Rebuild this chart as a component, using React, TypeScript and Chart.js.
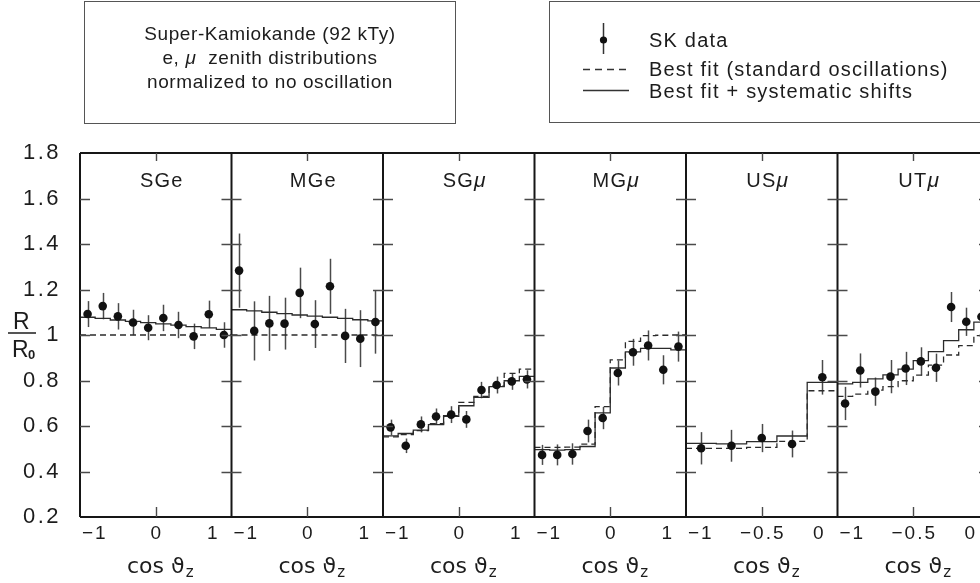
import React, { useEffect, useRef } from "react";
import { Chart, registerables } from "chart.js";
Chart.register(...registerables);

const FONT = '"Liberation Sans", Arial, sans-serif';
const INK = "#1c1c1c";

// bin edges in cos(theta_z)
const edgesFull = [-1, -0.8, -0.6, -0.4, -0.2, 0, 0.2, 0.4, 0.6, 0.8, 1];
const edgesUp5 = [-1, -0.8, -0.6, -0.4, -0.2, 0];
const edgesUp10 = [-1, -0.9, -0.8, -0.7, -0.6, -0.5, -0.4, -0.3, -0.2, -0.1, 0];

const tickFull = [-1, 0, 1];
const tickFullLabels = ["\u22121", "0", "1"];
const tickUp = [-1, -0.5, 0];
const tickUpLabels = ["\u22121", "\u22120.5", "0"];
const yTickValues = [0.4, 0.6, 0.8, 1.0, 1.2, 1.4, 1.6];

// SGe
const sgeObs = [1.092, 1.127, 1.082, 1.055, 1.032, 1.075, 1.044, 0.994, 1.091, 1.0];
const sgeErr = [0.057, 0.058, 0.058, 0.056, 0.055, 0.058, 0.058, 0.056, 0.06, 0.056];
const sgeStd = [1.0, 1.0, 1.0, 1.0, 1.0, 1.0, 1.0, 1.0, 1.0, 1.0];
const sgeSys = [1.078, 1.073, 1.066, 1.06, 1.054, 1.049, 1.043, 1.037, 1.031, 1.025];
// MGe
const mgeObs = [1.283, 1.018, 1.051, 1.05, 1.185, 1.048, 1.214, 0.996, 0.984, 1.057];
const mgeErr = [0.163, 0.13, 0.121, 0.114, 0.111, 0.105, 0.121, 0.119, 0.125, 0.139];
const mgeStd = [1.0, 1.0, 1.0, 1.0, 1.0, 1.0, 1.0, 1.0, 1.0, 1.0];
const mgeSys = [1.111, 1.106, 1.1, 1.094, 1.088, 1.083, 1.078, 1.073, 1.067, 1.062];
// SGmu
const sgmObs = [0.594, 0.513, 0.607, 0.642, 0.65, 0.629, 0.758, 0.78, 0.796, 0.805];
const sgmErr = [0.034, 0.032, 0.035, 0.035, 0.037, 0.037, 0.036, 0.037, 0.037, 0.04];
const sgmStd = [0.552, 0.562, 0.58, 0.61, 0.645, 0.704, 0.73, 0.775, 0.831, 0.85];
const sgmSys = [0.557, 0.567, 0.582, 0.606, 0.642, 0.689, 0.726, 0.773, 0.799, 0.818];
// MGmu
const mgmObs = [0.473, 0.473, 0.477, 0.578, 0.635, 0.833, 0.924, 0.954, 0.847, 0.949];
const mgmErr = [0.044, 0.046, 0.047, 0.05, 0.049, 0.055, 0.059, 0.066, 0.064, 0.066];
const mgmStd = [0.506, 0.506, 0.507, 0.52, 0.685, 0.891, 0.972, 0.997, 0.999, 1.0];
const mgmSys = [0.496, 0.494, 0.496, 0.51, 0.658, 0.855, 0.926, 0.941, 0.941, 0.935];
// USmu
const usmObs = [0.502, 0.513, 0.547, 0.521, 0.814];
const usmErr = [0.071, 0.07, 0.062, 0.059, 0.076];
const usmStd = [0.502, 0.502, 0.506, 0.532, 0.755];
const usmSys = [0.524, 0.521, 0.531, 0.556, 0.792];
// UTmu
const utmObs = [0.699, 0.844, 0.751, 0.817, 0.853, 0.884, 0.856, 1.123, 1.058, 1.08];
const utmErr = [0.073, 0.075, 0.062, 0.073, 0.073, 0.062, 0.062, 0.066, 0.062, 0.06];
const utmStd = [0.73, 0.74, 0.758, 0.773, 0.799, 0.824, 0.868, 0.912, 0.953, 0.997];
const utmSys = [0.785, 0.792, 0.807, 0.825, 0.85, 0.887, 0.927, 0.975, 1.023, 1.057];

const panels = [
  { name: "SGe", mu: false, edges: edgesFull, obs: sgeObs, err: sgeErr, std: sgeStd, sys: sgeSys, ticks: tickFull, labels: tickFullLabels },
  { name: "MGe", mu: false, edges: edgesFull, obs: mgeObs, err: mgeErr, std: mgeStd, sys: mgeSys, ticks: tickFull, labels: tickFullLabels },
  { name: "SG", mu: true, edges: edgesFull, obs: sgmObs, err: sgmErr, std: sgmStd, sys: sgmSys, ticks: tickFull, labels: tickFullLabels },
  { name: "MG", mu: true, edges: edgesFull, obs: mgmObs, err: mgmErr, std: mgmStd, sys: mgmSys, ticks: tickFull, labels: tickFullLabels },
  { name: "US", mu: true, edges: edgesUp5, obs: usmObs, err: usmErr, std: usmStd, sys: usmSys, ticks: tickUp, labels: tickUpLabels },
  { name: "UT", mu: true, edges: edgesUp10, obs: utmObs, err: utmErr, std: utmStd, sys: utmSys, ticks: tickUp, labels: tickUpLabels },
];

const stepData = (edges: number[], vals: number[]) =>
  edges.map((e, j) => ({ x: e, y: vals[Math.min(j, vals.length - 1)] }));
const pointData = (edges: number[], vals: number[]) =>
  vals.map((v, j) => ({ x: (edges[j] + edges[j + 1]) / 2, y: v }));

const errorBarsPlugin = {
  id: "errorBars",
  beforeDatasetsDraw(chart: any) {
    const ctx = chart.ctx;
    const ys = chart.scales.y;
    ctx.save();
    ctx.strokeStyle = "#4a4a4a";
    ctx.lineWidth = 1.5;
    chart.data.datasets.forEach((ds: any, i: number) => {
      if (!ds.errors) return;
      const meta = chart.getDatasetMeta(i);
      const xs = chart.scales[meta.xAxisID];
      ds.data.forEach((pt: any, j: number) => {
        const px = Math.round(xs.getPixelForValue(pt.x)) + 0.5;
        ctx.beginPath();
        ctx.moveTo(px, ys.getPixelForValue(pt.y + ds.errors[j]));
        ctx.lineTo(px, ys.getPixelForValue(pt.y - ds.errors[j]));
        ctx.stroke();
      });
    });
    ctx.restore();
  },
};

const decorPlugin = {
  id: "decor",
  afterDraw(chart: any) {
    const ctx = chart.ctx;
    const a = chart.chartArea;
    const ys = chart.scales.y;
    ctx.save();
    // frame
    ctx.strokeStyle = "#161616";
    ctx.lineWidth = 2;
    ctx.beginPath();
    ctx.moveTo(a.left, a.top);
    ctx.lineTo(a.right, a.top);
    ctx.moveTo(a.left, a.bottom);
    ctx.lineTo(a.right, a.bottom);
    ctx.stroke();
    const bounds: number[] = [];
    panels.forEach((p, i) => bounds.push(chart.scales["x" + i].left));
    bounds.push(chart.scales["x" + (panels.length - 1)].right);
    ctx.beginPath();
    bounds.forEach((bx) => {
      ctx.moveTo(bx, a.top);
      ctx.lineTo(bx, a.bottom);
    });
    ctx.stroke();
    // y ticks across boundaries
    ctx.lineWidth = 1.4;
    ctx.strokeStyle = "#4a4a4a";
    ctx.beginPath();
    yTickValues.forEach((v) => {
      const py = Math.round(ys.getPixelForValue(v)) + 0.5;
      bounds.forEach((bx, k) => {
        const l = k === 0 ? 0 : 10;
        const r = k === bounds.length - 1 ? 0 : 10;
        ctx.moveTo(bx - l, py);
        ctx.lineTo(bx + r, py);
      });
    });
    // top/bottom middle ticks
    panels.forEach((p, i) => {
      const s = chart.scales["x" + i];
      const px = Math.round(s.getPixelForValue(p.ticks[1])) + 0.5;
      ctx.moveTo(px, a.top);
      ctx.lineTo(px, a.top + 8);
      ctx.moveTo(px, a.bottom);
      ctx.lineTo(px, a.bottom - 10);
    });
    ctx.stroke();

    ctx.fillStyle = INK;
    ctx.textBaseline = "alphabetic";
    panels.forEach((p, i) => {
      const s = chart.scales["x" + i];
      const center = (s.left + s.right) / 2;
      // x tick labels
      (ctx as any).letterSpacing = "2px";
      ctx.font = `19px ${FONT}`;
      p.ticks.forEach((t, k) => {
        const px = s.getPixelForValue(t);
        if (k === 0) {
          ctx.textAlign = "left";
          ctx.fillText(p.labels[k], px + 2, a.bottom + 22);
        } else if (k === p.ticks.length - 1) {
          ctx.textAlign = "right";
          ctx.fillText(p.labels[k], px - 12, a.bottom + 22);
        } else {
          ctx.textAlign = "center";
          ctx.fillText(p.labels[k], px + 1, a.bottom + 22);
        }
      });
      // panel titles
      (ctx as any).letterSpacing = "1.2px";
      ctx.textAlign = "left";
      ctx.font = `20px ${FONT}`;
      const w1 = ctx.measureText(p.name).width;
      let w2 = 0;
      if (p.mu) {
        ctx.font = `italic 21px ${FONT}`;
        w2 = ctx.measureText("μ").width;
      }
      const tx = center + 6 - (w1 + w2) / 2;
      ctx.font = `20px ${FONT}`;
      ctx.fillText(p.name, tx, a.top + 34);
      if (p.mu) {
        ctx.font = `italic 21px ${FONT}`;
        ctx.fillText("μ", tx + w1, a.top + 34);
      }
      // axis titles
      (ctx as any).letterSpacing = "0px";
      ctx.font = `22px "DejaVu Sans", ${FONT}`;
      const m1 = ctx.measureText("cos ϑ").width;
      ctx.font = `15px "DejaVu Sans", ${FONT}`;
      const m2 = ctx.measureText("z").width;
      const cx = center + 4 - (m1 + m2) / 2;
      ctx.font = `22px "DejaVu Sans", ${FONT}`;
      ctx.fillText("cos ϑ", cx, a.bottom + 56);
      ctx.font = `15px "DejaVu Sans", ${FONT}`;
      ctx.fillText("z", cx + m1 + 1, a.bottom + 60);
    });
    // y axis label R / R0
    const y1 = ys.getPixelForValue(1);
    (ctx as any).letterSpacing = "0px";
    ctx.font = `23px ${FONT}`;
    ctx.textAlign = "left";
    ctx.fillText("R", 13, y1 - 6);
    ctx.fillText("R", 12, y1 + 22);
    ctx.font = `bold 13px ${FONT}`;
    ctx.fillText("0", 28, y1 + 24);
    ctx.strokeStyle = INK;
    ctx.lineWidth = 1.5;
    ctx.beginPath();
    ctx.moveTo(8, y1 - 2);
    ctx.lineTo(36, y1 - 2);
    ctx.stroke();
    ctx.restore();
  },
};

const spacingPlugin = {
  id: "spacing",
  beforeDraw(chart: any) {
    (chart.ctx as any).letterSpacing = "2.5px";
  },
};

export default function App() {
  const canvasRef = useRef<HTMLCanvasElement | null>(null);

  useEffect(() => {
    const canvas = canvasRef.current;
    if (!canvas) return;
    const datasets: any[] = [];
    const scales: any = {};
    panels.forEach((p, i) => {
      const xid = "x" + i;
      scales[xid] = {
        type: "linear",
        position: "bottom",
        stack: "panels",
        stackWeight: 1,
        min: p.edges[0],
        max: p.edges[p.edges.length - 1],
        ticks: { display: false },
        grid: { display: false },
        border: { display: false },
        afterFit: (s: any) => {
          s.height = 66;
          s.paddingLeft = 0;
          s.paddingRight = 0;
        },
      };
      datasets.push({
        type: "line",
        xAxisID: xid,
        yAxisID: "y",
        data: stepData(p.edges, p.std),
        stepped: true,
        borderColor: "#2b2b2b",
        borderWidth: 1.3,
        borderDash: [6, 4],
        pointRadius: 0,
        fill: false,
        order: 3,
      });
      datasets.push({
        type: "line",
        xAxisID: xid,
        yAxisID: "y",
        data: stepData(p.edges, p.sys),
        stepped: true,
        borderColor: "#2b2b2b",
        borderWidth: 1.3,
        pointRadius: 0,
        fill: false,
        order: 2,
      });
      datasets.push({
        type: "scatter",
        xAxisID: xid,
        yAxisID: "y",
        data: pointData(p.edges, p.obs),
        errors: p.err,
        pointRadius: 4.3,
        pointBackgroundColor: "#111",
        pointBorderWidth: 0,
        order: 1,
      });
    });
    scales.y = {
      type: "linear",
      position: "left",
      min: 0.2,
      max: 1.8,
      ticks: {
        stepSize: 0.2,
        color: INK,
        padding: 11,
        font: { family: FONT, size: 22 },
        callback: (v: any) => (Math.abs(v - 1) < 1e-6 ? "1" : Number(v).toFixed(1)),
      },
      grid: { display: false },
      border: { display: false },
      afterFit: (s: any) => {
        s.width = 80;
        s.paddingTop = 0;
        s.paddingBottom = 0;
      },
    };
    const chart = new Chart(canvas, {
      type: "scatter",
      data: { datasets },
      options: {
        responsive: false,
        animation: false,
        devicePixelRatio: 1,
        layout: { padding: { top: 153, left: 0, right: 11, bottom: 0 } },
        scales,
        plugins: { legend: { display: false }, tooltip: { enabled: false } },
      } as any,
      plugins: [spacingPlugin, errorBarsPlugin, decorPlugin],
    } as any);
    return () => chart.destroy();
  }, []);

  const boxText: React.CSSProperties = {
    position: "absolute",
    whiteSpace: "nowrap",
    fontFamily: FONT,
    color: INK,
    lineHeight: "1",
    letterSpacing: "0.6px",
  };

  return (
    <div style={{ position: "fixed", left: 0, top: 0, width: 980, height: 583, overflow: "hidden", background: "#fff" }}>
      <canvas ref={canvasRef} width={1000} height={583} style={{ position: "absolute", left: 0, top: 0 }} />
      <div style={{ position: "absolute", left: 84, top: 1, width: 370, height: 121, border: "1.5px solid #555" }}>
        <div style={{ ...boxText, fontSize: 19, left: 0, width: 370, textAlign: "center", top: 22 }}>Super-Kamiokande (92 kTy)</div>
        <div style={{ ...boxText, fontSize: 19, left: 0, width: 370, textAlign: "center", top: 46 }}>
          e, <i>μ</i>&nbsp; zenith distributions
        </div>
        <div style={{ ...boxText, fontSize: 19, left: 0, width: 370, textAlign: "center", top: 70 }}>normalized to no oscillation</div>
      </div>
      <div style={{ position: "absolute", left: 549, top: 1, width: 440, height: 120, border: "1.5px solid #555" }}>
        <svg width={100} height={120} style={{ position: "absolute", left: 0, top: 0 }}>
          <line x1={53.5} y1={21} x2={53.5} y2={52} stroke="#333" strokeWidth={1.5} />
          <circle cx={53.5} cy={38} r={3.6} fill="#111" />
          <line x1={33} y1={67.5} x2={79} y2={67.5} stroke="#333" strokeWidth={1.3} strokeDasharray="7 5" />
          <line x1={33} y1={88.5} x2={79} y2={88.5} stroke="#333" strokeWidth={1.3} />
        </svg>
        <div style={{ ...boxText, fontSize: 20, letterSpacing: "1.2px", left: 99, top: 28 }}>SK data</div>
        <div style={{ ...boxText, fontSize: 20, letterSpacing: "1.2px", left: 99, top: 57 }}>Best fit (standard oscillations)</div>
        <div style={{ ...boxText, fontSize: 20, letterSpacing: "1.2px", left: 99, top: 79 }}>Best fit + systematic shifts</div>
      </div>
    </div>
  );
}
